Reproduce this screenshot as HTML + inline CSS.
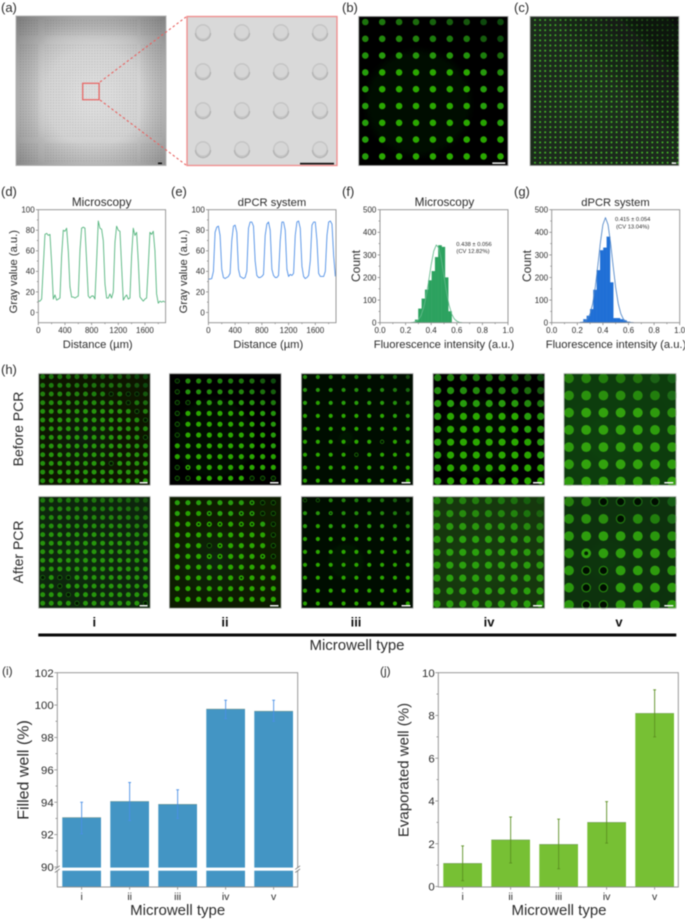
<!DOCTYPE html>
<html lang="en">
<head>
<meta charset="utf-8">
<title>Microwell dPCR figure</title>
<style>
html,body{margin:0;padding:0;background:#fff;}
#figure{display:block;width:685px;height:919px;filter:blur(0.5px);font-family:"Liberation Sans",Arial,sans-serif;fill:#2c2c2c;}
</style>
</head>
<body>
<svg id="figure" xmlns="http://www.w3.org/2000/svg" width="685" height="919" viewBox="0 0 685 919">
  <defs>
    <radialGradient id="chip-grad" cx="52%" cy="54%" r="72%">
      <stop offset="0" stop-color="#dcdcdc"/><stop offset="0.45" stop-color="#cdcdcd"/><stop offset="0.75" stop-color="#a6a6a6"/><stop offset="1" stop-color="#808080"/>
    </radialGradient>
    <radialGradient id="glow" cx="40%" cy="58%" r="65%">
      <stop offset="0" stop-color="#2f9a14" stop-opacity="0.08"/><stop offset="1" stop-color="#000" stop-opacity="0"/>
    </radialGradient>
    <linearGradient id="dim-top" x1="0" y1="1" x2="1" y2="0">
      <stop offset="0.55" stop-color="#000" stop-opacity="0"/><stop offset="1" stop-color="#000" stop-opacity="0.65"/>
    </linearGradient>
    <pattern id="chip-wells" width="2.75" height="2.75" patternUnits="userSpaceOnUse">
      <circle cx="1.3" cy="1.3" r="0.7" fill="#000" fill-opacity="0.1"/>
    </pattern>
    <filter id="soft" x="-20%" y="-20%" width="140%" height="140%"><feGaussianBlur stdDeviation="5"/></filter>
    <filter id="image-soft" x="-2%" y="-2%" width="104%" height="104%"><feGaussianBlur stdDeviation="0.3"/></filter>
  </defs>

  <!-- panel (a) -->
  <text x="1" y="12" font-size="13">(a)</text>
  <g>
    <rect x="16" y="16" width="150" height="150" fill="url(#chip-grad)"/>
    <rect x="40" y="33" width="104" height="108" rx="18" fill="#fff" fill-opacity="0.14" filter="url(#soft)"/>
    <rect x="19" y="19" width="20" height="17" fill="url(#chip-wells)"/>
    <rect x="45" y="19" width="92" height="17" fill="url(#chip-wells)"/>
    <rect x="141" y="19" width="22" height="17" fill="url(#chip-wells)"/>
    <rect x="19" y="44" width="20" height="93" fill="url(#chip-wells)"/>
    <rect x="45" y="44" width="92" height="93" fill="url(#chip-wells)"/>
    <rect x="141" y="44" width="22" height="93" fill="url(#chip-wells)"/>
    <rect x="19" y="143" width="20" height="20" fill="url(#chip-wells)"/>
    <rect x="45" y="143" width="92" height="20" fill="url(#chip-wells)"/>
    <rect x="141" y="143" width="22" height="20" fill="url(#chip-wells)"/>
    <rect x="16" y="16" width="150" height="149.5" fill="none" stroke="#b4b4b4" stroke-width="1"/>
    <rect x="158" y="162.5" width="4" height="1.6" fill="#111"/>
    <rect x="82.7" y="83.3" width="16.4" height="16.4" fill="none" stroke="#e8615f" stroke-width="1.2"/>
  </g>
  <line x1="100" y1="82" x2="186" y2="17" stroke="#e8615f" stroke-width="1.1" stroke-dasharray="2.4 2.4"/>
  <line x1="100" y1="100" x2="186" y2="165" stroke="#e8615f" stroke-width="1.1" stroke-dasharray="2.4 2.4"/>
  <g id="zoom-panel">
    <rect x="187" y="16.5" width="150" height="149" fill="#d9d9d9"/>
  </g>

  <!-- panel labels -->
  <text x="342" y="12" font-size="13">(b)</text>
  <text x="514" y="12" font-size="13">(c)</text>
  <text x="1" y="196" font-size="13">(d)</text>
  <text x="171" y="196" font-size="13">(e)</text>
  <text x="342" y="196" font-size="13">(f)</text>
  <text x="514" y="196" font-size="13">(g)</text>
  <text x="1" y="374" font-size="13">(h)</text>
  <text x="2" y="675" font-size="12">(i)</text>
  <text x="380" y="675" font-size="12">(j)</text>

  <!-- chart titles -->
  <text x="101.7" y="206" font-size="11.8" text-anchor="middle">Microscopy</text>
  <text x="272" y="206" font-size="11.2" text-anchor="middle">dPCR system</text>
  <text x="444.5" y="206" font-size="11.8" text-anchor="middle">Microscopy</text>
  <text x="615.5" y="206" font-size="11.2" text-anchor="middle">dPCR system</text>

  <text x="97.7" y="348" font-size="11.2" text-anchor="middle">Distance (µm)</text>
  <text x="268.3" y="348" font-size="11.2" text-anchor="middle">Distance (µm)</text>
  <text x="444" y="348" font-size="11.2" text-anchor="middle">Fluorescence intensity (a.u.)</text>
  <text x="616" y="348" font-size="11.2" text-anchor="middle">Fluorescence intensity (a.u.)</text>
  <text transform="translate(17,271.7) rotate(-90)" font-size="11.2" text-anchor="middle">Gray value (a.u.)</text>
  <text transform="translate(187,271.7) rotate(-90)" font-size="11.2" text-anchor="middle">Gray value (a.u.)</text>
  <text transform="translate(360,266) rotate(-90)" font-size="12" text-anchor="middle">Count</text>
  <text transform="translate(531,266) rotate(-90)" font-size="12" text-anchor="middle">Count</text>

  <text x="474" y="246" font-size="5.8" text-anchor="middle">0.438 ± 0.056</text>
  <text x="473" y="253.2" font-size="5.8" text-anchor="middle">(CV 12.82%)</text>
  <text x="632.7" y="221" font-size="5.8" text-anchor="middle">0.415 ± 0.054</text>
  <text x="632.7" y="228.3" font-size="5.8" text-anchor="middle">(CV 13.04%)</text>

  <!-- panel (h) labels -->
  <text transform="translate(23,429) rotate(-90)" font-size="14" text-anchor="middle">Before PCR</text>
  <text transform="translate(23,552) rotate(-90)" font-size="14" text-anchor="middle">After PCR</text>
  <text x="94.3" y="626.5" font-size="13" font-weight="bold" text-anchor="middle" fill="#111">i</text>
  <text x="225" y="626.5" font-size="13" font-weight="bold" text-anchor="middle" fill="#111">ii</text>
  <text x="356" y="626.5" font-size="13" font-weight="bold" text-anchor="middle" fill="#111">iii</text>
  <text x="489" y="626.5" font-size="13" font-weight="bold" text-anchor="middle" fill="#111">iv</text>
  <text x="619" y="626.5" font-size="13" font-weight="bold" text-anchor="middle" fill="#111">v</text>
  <rect x="38.3" y="633.5" width="638" height="3" fill="#0a0a0a"/>
  <text x="357" y="650" font-size="15" text-anchor="middle">Microwell type</text>

  <!-- bar chart titles -->
  <text transform="translate(28.5,770) rotate(-90)" font-size="16" text-anchor="middle">Filled well (%)</text>
  <text x="177.7" y="915" font-size="15" text-anchor="middle">Microwell type</text>
  <text transform="translate(408.5,770) rotate(-90)" font-size="15" text-anchor="middle">Evaporated well (%)</text>
  <text x="559" y="915" font-size="15" text-anchor="middle">Microwell type</text>
</svg>

<script>
/* ---------- chart data ---------- */
const profileStepUm = 25;
const microscopyProfile = [11,11,13,45,76,77,75,76,48,13,17,12,13,14,55,80,79,82,60,25,15,15,14,15,16,60,82,83,82,50,16,14,16,16,13,50,89,82,81,70,28,14,14,18,14,20,68,84,80,79,45,12,15,17,13,14,55,82,75,78,50,15,13,11,13,14,45,78,76,79,60,18,9,11,10,11,10];
const dpcrProfile = [32.5,32.5,33,40,78,83,84,75,42,34,33,34,35,38,70,84,85,78,42,35,34,33,34,40,82,88,88,84,50,36,34,34,35,37,75,86,88,80,42,36,34,34,36,70,88,88,80,42,35,37,36,38,75,88,89,82,45,35,33,34,36,50,85,88,88,70,38,35,35,35,40,75,88,89,86,55,35];
const profileXTicks = [0,400,800,1200,1600];
const profileYTicks = [0,20,40,60,80,100];

const histBinWidth = 0.026;
const microscopyBinStart = 0.274;
const microscopyCounts = [13,62,106,146,187,228,290,342,335,200,50];
const dpcrBinStart = 0.222;
const dpcrCounts = [3,15,30,60,145,232,320,332,380,178,20,20,15,10,4];
const fitIntensity = [0.24,0.26,0.28,0.30,0.32,0.34,0.36,0.38,0.40,0.42,0.44,0.46,0.48,0.50,0.52,0.54,0.56,0.58,0.60,0.62,0.64];
const microscopyFit = [0,2,5,13,31,64,115,183,257,317,344,330,277,205,134,77,39,17,7,2,0];
const dpcrFit = [2,6,16,40,84,155,251,353,434,465,434,353,251,155,84,40,16,6,2,1,0];
const histXTicks = ['0.0','0.2','0.4','0.6','0.8','1.0'];
const histYTicks = [0,100,200,300,400,500];

const wellTypes = ['i','ii','iii','iv','v'];
const filledMean = [93.05,94.05,93.87,99.75,99.62];
const filledLow = [92.05,92.87,93.0,99.17,99.0];
const filledHigh = [94.0,95.22,94.77,100.3,100.3];
const filledTicks = [90,92,94,96,98,100,102];
const evapMean = [1.08,2.18,1.97,3.0,8.1];
const evapLow = [0.27,1.1,0.83,2.03,7.0];
const evapHigh = [1.9,3.25,3.15,3.97,9.2];
const evapTicks = [0,2,4,6,8,10];

/* ---------- helpers ---------- */
const NS = 'http://www.w3.org/2000/svg';
const root = document.getElementById('figure');
function mk(tag, attrs, parent) {
  const n = document.createElementNS(NS, tag);
  for (const k in attrs) n.setAttribute(k, attrs[k]);
  (parent || root).appendChild(n);
  return n;
}
function linear(d0, d1, r0, r1) {
  return v => r0 + (v - d0) * (r1 - r0) / (d1 - d0);
}
function drawFrame(x0, y0, x1, y1, prefix) {
  const f = mk('rect', {x:x0, y:y0, width:x1-x0, height:y1-y0, fill:'none', stroke:'#8e8e8e', 'stroke-width':0.9});
  
  
}
function drawYTick(x, y, len, label, size, prefix) {
  const t = mk('line', {x1:x-len, x2:x, y1:y, y2:y, stroke:'#777', 'stroke-width':0.7});
  
  
  if (label !== null) {
    const s = mk('text', {x:x-3.6, y:y+size*0.36, 'font-size':size, 'text-anchor':'end'});
    s.textContent = label;
    
    
  }
}
function drawXTick(x, y, len, label, size, prefix, gap) {
  const t = mk('line', {x1:x, x2:x, y1:y, y2:y+len, stroke:'#777', 'stroke-width':0.7});
  
  
  if (label !== null) {
    const s = mk('text', {x:x, y:y+gap, 'font-size':size, 'text-anchor':'middle'});
    s.textContent = label;
    
    
  }
}

/* ---------- line profiles ---------- */
function drawProfile(values, x0, x1, color, prefix) {
  const y0 = 209.7, y1 = 322.7;
  const sx = linear(0, 1910, x0, x1);
  const sy = linear(-10, 100, y1, y0);
  profileXTicks.forEach(v => drawXTick(sx(v), y1, 2.4, String(v), 8, prefix, 10.4));
  profileXTicks.forEach(v => drawXTick(sx(v + 200), y1, 1.4, null, 8, prefix, 0));
  profileYTicks.forEach(v => drawYTick(x0, sy(v), 2.4, String(v), 8, prefix));
  profileYTicks.slice(0, -1).forEach(v => drawYTick(x0, sy(v + 10), 1.4, null, 8, prefix));
  const pts = values.map((v, i) => sx(i * profileStepUm).toFixed(2) + ',' + sy(v).toFixed(2)).join(' ');
  const line = mk('polyline', {points:pts, fill:'none', stroke:color, 'stroke-width':0.9, 'stroke-linejoin':'round'});
  
  
  drawFrame(x0, y0, x1, y1, prefix);
}
drawProfile(microscopyProfile, 38.3, 165.6, '#55b57e', 'chart-d');
drawProfile(dpcrProfile, 208.4, 336, '#4f8fe6', 'chart-e');

/* ---------- histograms ---------- */
function drawHist(counts, binStart, fit, x0, x1, barColor, lineColor, prefix) {
  const y0 = 209.7, y1 = 322.7;
  const sx = linear(0, 1, x0, x1);
  const sy = linear(0, 500, y1, y0);
  counts.forEach((c, i) => {
    const left = sx(binStart + i * histBinWidth);
    const bar = mk('rect', {x:left, y:sy(c), width:sx(histBinWidth) - sx(0), height:y1 - sy(c), fill:barColor, stroke:barColor, 'stroke-width':0.25});
    
    
  });
  const pts = fitIntensity.map((v, i) => sx(v).toFixed(2) + ',' + sy(fit[i]).toFixed(2)).join(' ');
  const curve = mk('polyline', {points:pts, fill:'none', stroke:lineColor, 'stroke-width':0.85, 'stroke-linejoin':'round'});
  
  
  histXTicks.forEach(v => drawXTick(sx(parseFloat(v)), y1, 2.4, v, 8, prefix, 10.4));
  histXTicks.slice(0, -1).forEach(v => drawXTick(sx(parseFloat(v) + 0.1), y1, 1.4, null, 8, prefix, 0));
  histYTicks.forEach(v => drawYTick(x0, sy(v), 2.4, String(v), 8, prefix));
  histYTicks.slice(0, -1).forEach(v => drawYTick(x0, sy(v + 50), 1.4, null, 8, prefix));
  drawFrame(x0, y0, x1, y1, prefix);
}
drawHist(microscopyCounts, microscopyBinStart, microscopyFit, 380, 508, '#2ca25f', '#63b98b', 'chart-f');
drawHist(dpcrCounts, dpcrBinStart, dpcrFit, 551.7, 679.7, '#1f6fd6', '#4d83c6', 'chart-g');

/* ---------- bar charts ---------- */
function drawBars(means, lows, highs, ticks, sy, x0, x1, firstBar, barColor, errColor, prefix, minorStep) {
  const yTop = 672.7, yBottom = 887, barW = 38.7, pitch = 48;
  ticks.forEach(v => drawYTick(x0, sy(v), 3, String(v), 11.4, prefix));
  ticks.slice(0, -1).forEach(v => drawYTick(x0, sy(v + minorStep), 1.8, null, 11.4, prefix));
  means.forEach((m, i) => {
    const left = firstBar + i * pitch, cx = left + barW / 2;
    const bar = mk('rect', {x:left, y:sy(m), width:barW, height:yBottom - sy(m), fill:barColor});
    
    
    const edge = mk('line', {x1:left, x2:left + barW, y1:sy(m), y2:sy(m), stroke:'#4a6a4a', 'stroke-opacity':0.45, 'stroke-width':0.7});
    
    
    const err = mk('line', {x1:cx, x2:cx, y1:sy(lows[i]), y2:sy(highs[i]), stroke:errColor, 'stroke-width':0.9});
    
    
    const capHi = mk('line', {x1:cx-1.4, x2:cx+1.4, y1:sy(highs[i]), y2:sy(highs[i]), stroke:errColor, 'stroke-width':0.9});
    
    
    const capLo = mk('line', {x1:cx-1.4, x2:cx+1.4, y1:sy(lows[i]), y2:sy(lows[i]), stroke:errColor, 'stroke-width':0.9});
    
    
    drawXTick(cx, yBottom, 2.6, wellTypes[i], 10.5, prefix, 13);
  });
  drawFrame(x0, yTop, x1, yBottom, prefix);
}
const filledY = linear(90, 102, 867, 672.7);
drawBars(filledMean, filledLow, filledHigh, filledTicks, filledY, 57.3, 297.7, 62.3, '#4395c4', '#4a8fe6', 'chart-i', 1);
const evapY = linear(0, 10, 886.5, 672.7);
drawBars(evapMean, evapLow, evapHigh, evapTicks, evapY, 438.3, 678.3, 443.3, '#77c034', '#5b8f20', 'chart-j', 1);

const axisBreak = mk('rect', {x:56, y:867.6, width:243, height:3.1, fill:'#fff'});


[[57.3], [297.7]].forEach(p => {
  [867.6, 870.7].forEach(y => {
    const mark = mk('line', {x1:p[0]-2.4, x2:p[0]+2.4, y1:y+1.8, y2:y-1.8, stroke:'#777', 'stroke-width':0.8});
    
    
  });
});

/* ---------- zoomed well image (a) ---------- */
const zoomPanel = document.getElementById('zoom-panel');
[203, 242, 281, 320].forEach(cx => {
  [32, 71, 110, 149].forEach(cy => {
    const w = mk('circle', {cx:cx, cy:cy, r:7.2, fill:'#d6d6d6', stroke:'#c4c4c4', 'stroke-width':1.3}, zoomPanel);
    
    
    const rim = mk('path', {d:`M${cx-7.6} ${cy+1} A7.6 7.6 0 0 0 ${cx+7.6} ${cy+1}`, fill:'none', stroke:'#b2b2b2', 'stroke-width':1.2}, zoomPanel);
    
    
  });
});
const zoomBorder = mk('rect', {x:187, y:16.5, width:150, height:149, fill:'none', stroke:'#f08b8b', 'stroke-width':1.3}, zoomPanel);


const zoomScale = mk('rect', {x:300, y:162.8, width:34, height:1.7, fill:'#111'}, zoomPanel);



/* ---------- fluorescence images ---------- */
function spotColor(t, dim, bright) {
  const c = dim.map((d, i) => Math.round(d + (bright[i] - d) * t));
  return `rgb(${c[0]},${c[1]},${c[2]})`;
}
function drawImage(cfg) {
  const wrap = mk('g', {filter:'url(#image-soft)'});
  
  
  const g = mk('svg', {x:cfg.x, y:cfg.y, width:cfg.w, height:cfg.h, viewBox:`${cfg.x} ${cfg.y} ${cfg.w} ${cfg.h}`}, wrap);
  
  
  const bg = mk('rect', {x:cfg.x, y:cfg.y, width:cfg.w, height:cfg.h, fill:cfg.bg}, g);
  
  
  const glow = mk('rect', {x:cfg.x, y:cfg.y, width:cfg.w, height:cfg.h, fill:'url(#glow)'}, g);
  
  
  const dim = cfg.dim || [16, 68, 12], bright = cfg.bright || [42, 168, 6];
  const key = (c, r) => c + ':' + r;
  const rings = new Set((cfg.rings || []).map(p => key(p[0], p[1])));
  const holes = new Set((cfg.holes || []).map(p => key(p[0], p[1])));
  for (let r = 0; r < cfg.rows; r++) {
    for (let c = 0; c < cfg.cols; c++) {
      const u = cfg.cols > 1 ? c / (cfg.cols - 1) : 0, v = r / (cfg.rows - 1);
      const top = Math.max(0, (0.34 - v) / 0.34) * (0.45 + 0.55 * u);
      const right = Math.max(0, (u - 0.75) / 0.25) * (1 - v) * 0.5 + Math.max(0, (0.12 - u) / 0.12) * 0.12;
      const t = Math.max(0.05, 1 - (cfg.fall === undefined ? 0.8 : cfg.fall) * (top + right));
      const color = spotColor(t, dim, bright);
      const cx = cfg.x0 + c * cfg.dx, cy = cfg.y0 + r * cfg.dy;
      if (rings.has(key(c, r))) {
        const ring = mk('circle', {cx:cx, cy:cy, r:cfg.r * 0.85, fill:cfg.hole || '#041204', stroke:spotColor(t * 0.6, dim, bright), 'stroke-width':Math.max(0.7, cfg.r * 0.26)}, g);
        
        
      } else {
        const dot = mk('circle', {cx:cx, cy:cy, r:cfg.r, fill:color}, g);
        
        
        if (holes.has(key(c, r))) {
          const hole = mk('circle', {cx:cx, cy:cy, r:cfg.r * 0.4, fill:'#062006'}, g);
          
          
        }
      }
    }
  }
  if (cfg.cols > 20) {
    const shade = mk('rect', {x:cfg.x, y:cfg.y, width:cfg.w, height:cfg.h, fill:'url(#dim-top)'}, g);
    
    
  }
  const border = mk('rect', {x:cfg.x + 0.4, y:cfg.y + 0.4, width:cfg.w - 0.8, height:cfg.h - 0.8, fill:'none', stroke:'#b0b0b0', 'stroke-width':0.8}, g);
  
  
  const bar = mk('rect', {x:cfg.x + cfg.w - 3 - cfg.bar, y:cfg.y + cfg.h - 3.6, width:cfg.bar, height:1.5, fill:'#f4f4f4'}, g);
  
  
}

drawImage({name:'fluorescence-image-b', x:358.3, y:16, w:150, h:150, cols:9, rows:9, x0:365.3, dx:16.9, y0:22, dy:16.8, r:3.3, bg:'#010401', bar:13, fall:0.95});
drawImage({name:'fluorescence-image-c', x:529.7, y:16, w:149.5, h:150, cols:29, rows:29, x0:535, dx:5.1, y0:20, dy:5.1, r:1.0, bg:'#1b2a1b', bright:[68,180,44], dim:[44,120,34], fall:0.35, bar:4.5});

const col1 = {w:112.3, h:112.3, cols:13, rows:13, x0:42.7, dx:8.56, r:2.5, bar:8};
const col2 = {w:112.5, h:112.3, cols:10, rows:10, x0:177.3, dx:10.67, r:2.6, bar:8.5};
const col3 = {w:112.5, h:112.3, cols:9, rows:9, x0:305, dx:12.85, r:2.1, bar:9};
const col4 = {w:112.3, h:112.3, cols:9, rows:9, dx:12.87, r:3.6, bar:9};
const col5 = {w:112.6, h:112.3, cols:7, rows:7, x0:569, dx:17.2, r:4.9, bar:9};

drawImage(Object.assign({}, col1, {name:'before-pcr-image-i', x:38.3, y:373.3, y0:376.7, dy:8.67, bg:'#081606', bright:[38,150,8],
  rings:[[8,2],[10,2],[11,2],[10,3],[11,4],[12,5],[12,7],[8,10]]}));
drawImage(Object.assign({}, col2, {name:'before-pcr-image-ii', x:169, y:373.3, y0:381, dy:10.8, bg:'#010401',
  rings:[[0,0],[0,1],[0,2],[1,2],[0,3],[0,4],[0,5],[0,8],[0,9],[1,9],[7,9],[8,9],[9,9]], holes:[[1,8]], fall:0.65}));
drawImage(Object.assign({}, col3, {name:'before-pcr-image-iii', x:301, y:373.3, y0:377, dy:12.95, bg:'#020802',
  rings:[[6,5],[4,6]], fall:0.6}));
drawImage(Object.assign({}, col4, {name:'before-pcr-image-iv', x:432.7, y:373.3, x0:437.7, y0:377.7, dy:12.9, bg:'#010401', fall:0.75}));
drawImage(Object.assign({}, col5, {name:'before-pcr-image-v', x:563.7, y:373.3, y0:378.3, dy:17.2, bg:'#0f3c0e', bright:[48,162,12], dim:[24,88,20], fall:0.8}));

drawImage(Object.assign({}, col1, {name:'after-pcr-image-i', x:38.3, y:496.3, y0:500.3, dy:8.58, bg:'#0c2507', bright:[38,150,8],
  rings:[[0,9],[2,9],[3,9],[2,10],[3,11],[4,12],[12,12]], fall:0.55}));
drawImage(Object.assign({}, col2, {name:'after-pcr-image-ii', x:169, y:496.3, y0:502.7, dy:10.73, bg:'#091d06',
  rings:[[8,0],[9,0],[8,1],[9,1],[9,2],[9,3],[3,4],[9,4],[9,5]],
  holes:[[7,0],[3,1],[6,1],[7,1],[2,2],[3,2],[4,2],[6,2],[7,2],[4,4],[3,5],[4,5],[8,5],[6,7]], fall:0.2}));
drawImage(Object.assign({}, col3, {name:'after-pcr-image-iii', x:301, y:496.3, y0:500.3, dy:12.9, bg:'#030b03',
  rings:[[0,0],[1,0]], holes:[[2,1]], fall:0.6}));
drawImage(Object.assign({}, col4, {name:'after-pcr-image-iv', x:432.7, y:496.3, x0:437, y0:500.7, dy:12.9, bg:'#12380b', bright:[44,160,8], fall:0.6}));
drawImage(Object.assign({}, col5, {name:'after-pcr-image-v', x:563.7, y:496.3, y0:501.7, dy:17.2, bg:'#0b300b', hole:'#020a02', bright:[46,158,12], dim:[24,88,20],
  rings:[[2,0],[3,0],[4,0],[5,0],[3,1],[1,4],[2,4],[1,5],[2,5],[1,6],[2,6]], holes:[[1,3]], fall:0.75}));
</script>
</body>
</html>
